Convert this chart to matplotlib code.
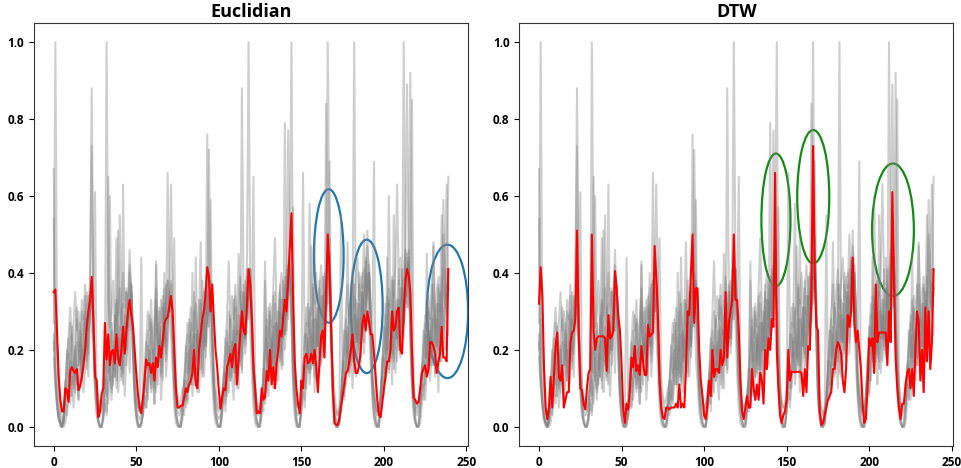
import numpy as np
import matplotlib
matplotlib.use("Agg")
import matplotlib.pyplot as plt
from matplotlib.patches import Ellipse

plt.rcParams['font.family'] = ['Open Sans', 'DejaVu Sans']

titles = ["Euclidian", "DTW"]

# grey member series (values in hundredths), 10 days x 24 hours each
g1 = [27,100,22,8,2,0,0,1,4,9,6,13,5,11,16,7,12,20,9,15,24,13,30,36,
      24,10,4,1,0,0,2,6,3,11,18,7,14,22,49,9,17,12,25,8,19,28,14,33,
      18,6,2,0,0,1,3,8,5,12,20,9,15,6,18,11,23,7,16,40,13,21,29,24,
      15,5,1,0,0,2,5,3,10,6,14,21,8,17,11,25,9,19,30,13,22,76,35,18,
      12,4,1,0,0,1,6,11,4,16,9,21,13,7,24,15,10,28,18,35,21,30,41,26,
      14,5,1,0,0,2,7,4,38,19,8,15,24,10,18,27,12,33,20,16,79,25,38,44,
      30,9,3,0,0,1,4,9,5,14,22,11,17,28,9,20,31,14,24,18,35,27,43,49,
      21,6,2,0,0,1,5,12,8,17,26,13,20,10,24,33,16,28,21,37,19,30,51,27,
      16,7,2,0,0,2,6,13,9,18,27,14,22,11,55,34,17,29,22,38,26,33,45,31,
      92,22,8,2,0,0,1,6,11,7,15,24,12,19,28,14,22,9,26,17,31,20,35,24]
g2 = [20,28,19,11,5,2,1,8,18,24,31,22,27,35,25,30,21,33,28,37,26,34,29,38,
      25,17,11,7,5,6,9,12,100,34,26,30,38,24,33,29,36,27,40,31,35,28,42,36,
      27,16,10,6,4,44,8,14,22,30,25,33,19,28,36,24,31,27,34,23,32,38,30,63,
      33,18,12,8,6,7,10,11,19,27,22,31,25,35,29,21,33,26,38,30,36,27,40,37,
      26,16,10,7,5,6,9,13,21,29,43,26,34,28,37,24,32,39,29,35,31,41,34,39,
      29,17,11,6,4,5,8,12,20,28,23,32,26,36,49,30,25,35,40,31,37,29,42,40,
      31,18,12,7,5,6,10,13,22,31,26,58,29,37,32,40,28,36,42,33,39,31,45,44,
      33,15,9,5,3,4,8,14,23,30,37,27,35,41,31,38,44,33,39,36,50,34,47,41,
      28,14,9,6,4,5,9,15,24,32,28,36,31,39,34,42,63,37,44,35,40,46,38,44,
      30,17,11,7,5,6,9,13,21,29,25,34,28,37,31,26,35,39,30,55,36,32,41,34]
g3 = [18,10,5,2,1,0,3,12,7,19,11,24,14,9,22,16,27,12,21,30,17,26,36,88,
      31,14,6,2,0,0,4,13,8,20,12,25,15,29,10,23,17,31,14,26,20,33,46,28,
      24,11,4,1,0,1,5,14,9,21,13,27,16,10,42,18,30,13,23,32,19,28,35,31,
      27,12,5,1,0,0,4,12,7,19,11,25,15,30,12,24,17,33,14,27,21,35,29,38,
      25,11,5,1,0,0,5,14,8,22,13,28,16,33,11,25,19,35,15,29,23,38,100,40,
      30,13,6,2,0,1,5,15,9,23,14,29,17,34,12,27,20,37,16,31,24,39,28,41,
      35,57,9,2,0,0,6,16,10,24,15,30,18,36,13,28,21,38,17,33,25,84,32,45,
      29,10,4,1,0,1,6,17,11,25,16,31,19,37,14,29,22,40,18,34,26,43,33,42,
      30,24,69,3,0,0,7,18,12,26,17,32,20,38,15,30,23,41,19,35,27,44,34,43,
      28,12,5,1,0,1,6,16,10,24,15,30,18,35,48,27,21,37,17,32,50,40,29,36]
g4 = [54,16,7,3,1,0,1,5,9,14,8,17,11,20,13,7,18,24,15,22,28,19,33,26,
      21,9,3,1,0,0,2,7,12,6,15,10,19,13,22,51,16,24,11,27,20,31,25,35,
      19,8,3,0,0,1,3,8,13,7,16,11,20,14,9,23,17,26,12,28,21,66,30,33,
      22,9,3,1,0,0,2,8,12,7,17,11,40,14,24,9,18,27,13,29,22,34,26,59,
      20,8,3,1,0,0,3,9,14,8,18,12,22,15,26,10,19,29,14,31,23,36,28,38,
      23,10,4,1,0,0,3,10,15,9,19,13,23,16,27,11,21,30,15,33,24,37,41,47,
      100,22,8,2,0,0,4,11,16,10,20,14,24,17,28,12,22,31,16,34,25,39,36,46,
      24,9,3,0,0,1,55,12,17,11,21,15,25,18,29,13,23,32,17,35,26,40,30,38,
      22,9,3,1,0,0,5,13,18,12,22,60,26,19,30,14,24,33,18,36,27,41,31,42,
      21,9,3,1,0,0,4,12,17,11,45,15,25,18,29,13,23,32,17,35,59,38,30,36]
g5 = [22,12,6,2,1,0,2,10,16,23,14,26,19,12,28,21,17,30,24,34,20,31,38,73,
      28,13,7,4,3,4,6,11,17,24,15,27,20,13,29,22,55,25,32,19,35,28,40,34,
      25,11,6,3,2,3,5,12,18,25,16,28,21,14,30,23,19,33,26,36,22,38,31,37,
      27,12,7,4,3,4,6,11,17,24,15,27,20,13,44,22,18,32,25,35,21,37,30,36,
      25,11,6,3,2,3,6,12,18,25,16,29,21,14,31,24,45,34,27,37,23,39,33,41,
      30,65,9,4,3,4,6,13,19,26,17,30,22,15,32,25,20,35,28,38,24,41,34,42,
      33,15,8,4,3,4,7,66,20,27,18,31,23,16,33,26,21,36,29,39,25,43,100,45,
      29,9,4,2,1,3,6,14,20,28,19,32,24,17,34,27,22,37,30,40,26,44,35,40,
      30,13,7,4,3,4,7,15,21,29,20,33,25,18,35,28,23,38,31,41,27,45,89,43,
      28,13,7,4,3,4,6,14,20,27,18,31,23,16,47,26,21,36,29,39,25,42,63,36]
g6 = [24,13,6,2,0,0,2,6,3,10,17,8,13,21,11,16,25,12,19,28,15,23,31,38,
      27,61,7,2,0,0,3,7,4,65,18,9,14,22,12,17,26,13,20,29,16,24,32,37,
      20,9,3,1,0,0,3,8,5,12,19,10,15,6,43,18,27,14,21,30,17,25,33,30,
      22,10,4,1,0,0,4,9,5,13,20,11,16,24,13,19,28,48,22,31,18,26,34,36,
      21,9,3,1,0,0,4,9,6,14,21,12,17,25,14,20,29,16,88,32,19,27,35,41,
      24,11,4,1,0,0,5,10,6,15,22,13,18,26,15,21,30,17,24,33,20,28,77,42,
      26,12,5,1,0,0,5,11,7,16,23,14,47,27,16,22,31,18,25,34,21,29,37,45,
      23,8,3,0,0,1,5,11,7,16,24,14,20,28,100,23,32,19,26,35,22,30,38,40,
      25,11,4,1,0,0,6,12,8,17,44,15,21,29,17,24,33,20,27,36,23,31,39,46,
      33,85,12,2,0,0,5,11,7,16,24,14,20,28,16,23,32,19,26,35,22,30,37,36]
g7 = [67,15,7,3,1,0,2,9,20,13,27,18,10,24,31,16,22,14,29,19,35,25,30,38,
      27,12,8,5,6,4,7,10,21,14,60,19,11,25,32,17,23,15,63,20,36,26,31,37,
      23,10,7,5,4,6,7,10,22,15,29,20,12,26,33,18,24,16,31,21,37,27,32,38,
      30,49,9,6,5,4,7,11,21,14,28,19,11,25,32,17,23,15,30,20,36,26,72,36,
      25,11,8,5,4,6,8,12,23,16,30,21,13,27,34,19,25,17,32,22,38,28,33,41,
      30,13,9,6,5,6,8,13,43,17,31,22,14,28,35,20,26,18,33,23,39,29,34,42,
      32,14,9,6,5,5,8,13,24,18,32,23,15,29,50,21,27,19,34,24,40,30,35,69,
      29,10,6,4,3,5,7,14,25,18,48,24,16,30,37,22,28,20,35,25,41,31,36,40,
      30,13,8,5,4,5,8,15,26,19,34,25,17,31,38,23,29,21,36,24,100,32,37,43,
      28,12,8,5,4,6,8,14,25,18,33,24,16,30,37,22,28,20,35,25,41,31,36,65]

red_euclid = [
    0.35,0.357,0.24,0.13,0.07,0.04,0.04,0.10,0.095,0.065,0.147,0.155,0.145,0.14,0.15,0.095,0.105,0.13,0.16,0.2,0.26,0.30,0.33,0.39,
    0.28,0.13,0.12,0.025,0.04,0.085,0.10,0.27,0.175,0.24,0.16,0.195,0.2,0.165,0.24,0.18,0.16,0.2,0.26,0.19,0.25,0.30,0.33,0.29,
    0.26,0.2,0.14,0.085,0.05,0.035,0.075,0.12,0.175,0.16,0.165,0.14,0.165,0.12,0.18,0.155,0.21,0.18,0.22,0.27,0.28,0.285,0.31,0.34,
    0.30,0.20,0.10,0.05,0.05,0.055,0.055,0.075,0.10,0.09,0.11,0.12,0.14,0.20,0.11,0.10,0.20,0.24,0.28,0.30,0.35,0.415,0.39,0.30,
    0.37,0.28,0.2,0.155,0.095,0.047,0.077,0.10,0.095,0.155,0.17,0.19,0.155,0.2,0.215,0.11,0.18,0.24,0.30,0.25,0.24,0.31,0.41,0.37,
    0.28,0.155,0.10,0.035,0.04,0.035,0.10,0.07,0.077,0.145,0.12,0.2,0.11,0.155,0.1,0.165,0.2,0.25,0.235,0.285,0.33,0.30,0.38,0.47,
    0.555,0.33,0.17,0.10,0.06,0.035,0.12,0.10,0.18,0.19,0.165,0.17,0.19,0.165,0.2,0.155,0.09,0.17,0.235,0.25,0.18,0.35,0.50,0.41,
    0.25,0.12,0.01,0.005,0.005,0.02,0.05,0.08,0.11,0.14,0.145,0.17,0.2,0.24,0.17,0.14,0.14,0.16,0.2,0.27,0.29,0.25,0.30,0.27,
    0.24,0.24,0.19,0.13,0.07,0.03,0.025,0.06,0.1,0.13,0.17,0.17,0.2,0.30,0.25,0.26,0.30,0.31,0.2,0.19,0.3,0.38,0.41,0.395,
    0.35,0.2,0.075,0.07,0.06,0.065,0.1,0.14,0.15,0.16,0.13,0.15,0.22,0.22,0.21,0.19,0.14,0.17,0.19,0.26,0.18,0.18,0.17,0.41]

red_dtw = [
    0.32,0.415,0.34,0.155,0.05,0.02,0.05,0.13,0.05,0.13,0.21,0.245,0.13,0.12,0.16,0.05,0.07,0.09,0.09,0.22,0.245,0.25,0.28,0.51,
    0.245,0.10,0.095,0.06,0.045,0.10,0.14,0.15,0.50,0.25,0.20,0.23,0.235,0.235,0.235,0.235,0.23,0.145,0.29,0.23,0.235,0.25,0.405,0.36,
    0.29,0.25,0.16,0.045,0.01,0.06,0.045,0.09,0.18,0.155,0.21,0.145,0.16,0.135,0.21,0.17,0.135,0.135,0.265,0.235,0.24,0.245,0.47,0.39,
    0.29,0.12,0.05,0.025,0.02,0.05,0.05,0.045,0.05,0.05,0.05,0.06,0.05,0.11,0.05,0.06,0.05,0.15,0.30,0.29,0.40,0.50,0.27,0.36,
    0.36,0.2,0.12,0.08,0.03,0.02,0.06,0.12,0.08,0.2,0.13,0.15,0.15,0.14,0.2,0.16,0.18,0.35,0.18,0.27,0.3,0.33,0.50,0.33,
    0.33,0.25,0.12,0.04,0.02,0.05,0.08,0.05,0.05,0.15,0.1,0.07,0.11,0.07,0.14,0.12,0.06,0.2,0.15,0.23,0.2,0.28,0.26,0.66,
    0.2,0.1,0.03,0.01,0.03,0.04,0.07,0.2,0.12,0.143,0.143,0.143,0.143,0.143,0.143,0.14,0.08,0.15,0.09,0.21,0.2,0.35,0.73,0.40,
    0.26,0.25,0.04,0.005,0.01,0.03,0.05,0.07,0.08,0.09,0.15,0.15,0.2,0.22,0.21,0.19,0.12,0.09,0.15,0.29,0.26,0.3,0.44,0.27,
    0.22,0.25,0.2,0.15,0.06,0.01,0.02,0.1,0.23,0.21,0.23,0.14,0.37,0.22,0.245,0.245,0.245,0.245,0.245,0.16,0.3,0.22,0.61,0.38,
    0.18,0.1,0.05,0.02,0.06,0.06,0.11,0.14,0.15,0.1,0.15,0.08,0.2,0.3,0.27,0.12,0.2,0.09,0.31,0.17,0.3,0.15,0.22,0.41]

grey_series = [g1, g2, g3, g4, g5, g6, g7]
red_series = [red_euclid, red_dtw]

# annotation ellipses: (x centre, y centre, width, height)
ellipses_euclid = [(166.6, 0.444, 18.0, 0.347), (189.6, 0.313, 19.3, 0.347), (238.5, 0.30, 25.0, 0.347)]
ellipses_dtw = [(143.5, 0.538, 17.6, 0.345), (166.1, 0.598, 19.4, 0.347), (214.4, 0.512, 25.3, 0.345)]
ellipse_sets = [ellipses_euclid, ellipses_dtw]
ellipse_colors = ['#1f77b4', '#138a13']

fig = plt.figure(figsize=(9.61, 4.68), dpi=100)
ax_pos = [[0.0354, 0.047, 0.4516, 0.904], [0.5404, 0.047, 0.4516, 0.904]]

for i in range(2):
    ax = fig.add_axes(ax_pos[i])
    for g in grey_series:
        ax.plot(np.arange(len(g)), np.array(g) / 100.0, color='#808080', alpha=0.38, lw=1.5)
    r = red_series[i]
    ax.plot(np.arange(len(r)), r, color='red', lw=1.5)
    for (cx, cy, w, h) in ellipse_sets[i]:
        ax.add_patch(Ellipse((cx, cy), w, h, fill=False, edgecolor=ellipse_colors[i], lw=1.6))
    ax.set_title(titles[i], fontsize=13, fontweight='bold', pad=4)
    ax.set_xticks([0, 50, 100, 150, 200, 250])
    ax.set_yticks([0.0, 0.2, 0.4, 0.6, 0.8, 1.0])
    ax.set_yticklabels(['0.0', '0.2', '0.4', '0.6', '0.8', '1.0'])
    for lab in ax.get_xticklabels() + ax.get_yticklabels():
        lab.set_fontweight('bold')
        lab.set_fontsize(8.5)
    ax.set_xlim(-11.95, 250.95)
    ax.set_ylim(-0.05, 1.05)
    for sp in ax.spines.values():
        sp.set_color('#333333')

fig.savefig('out.png', dpi=100)
